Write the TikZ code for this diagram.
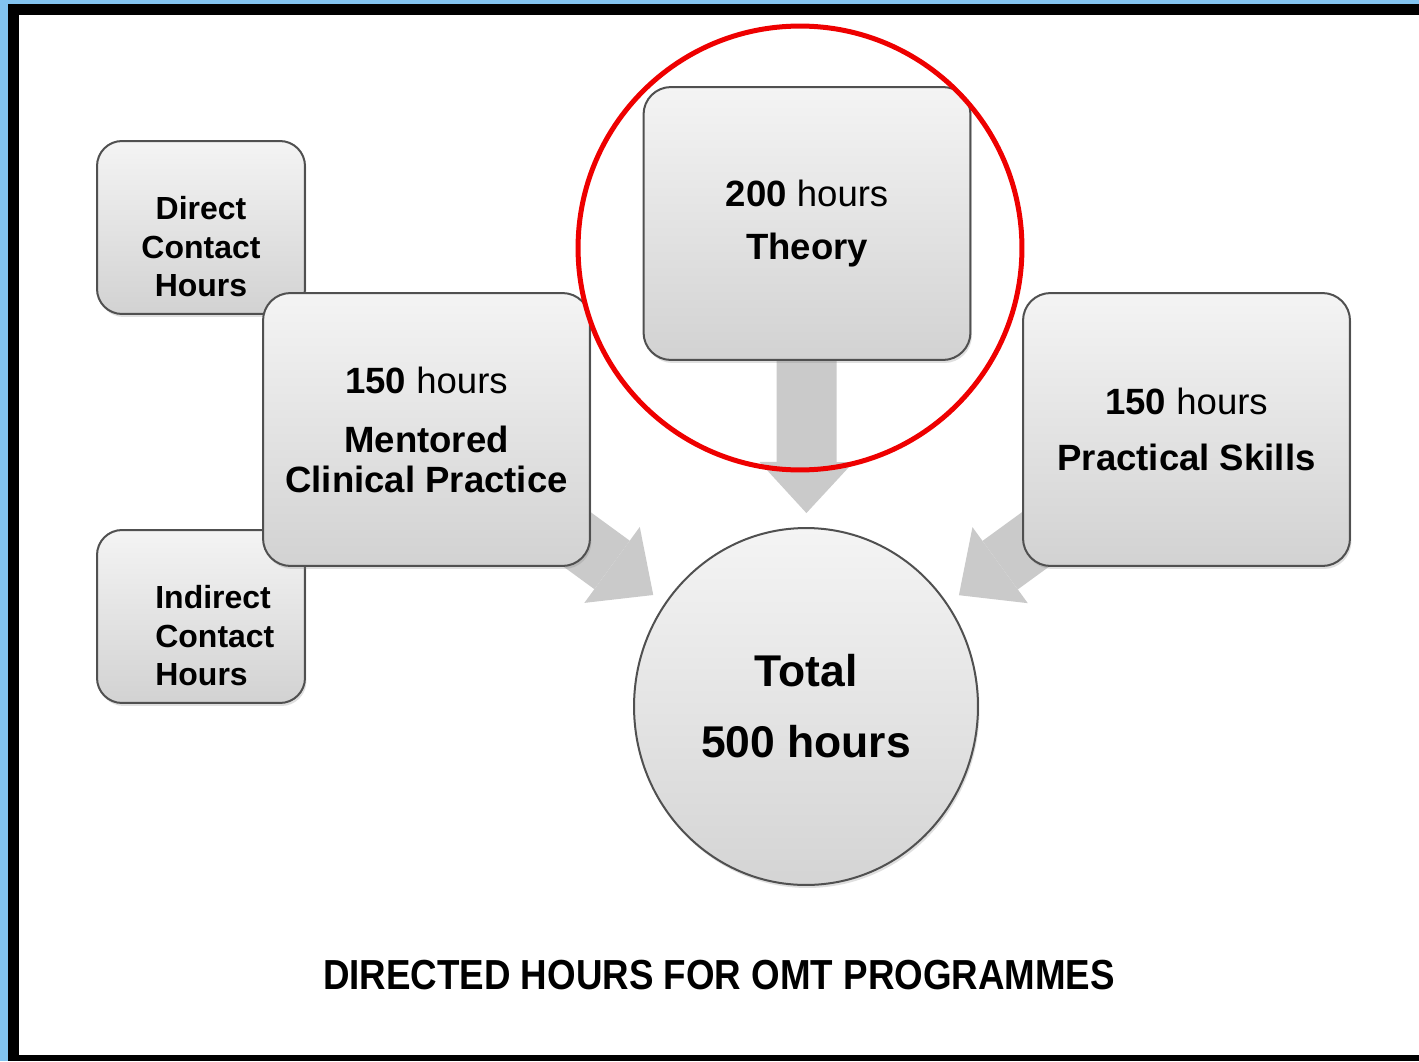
\documentclass[tikz,border=0pt]{standalone}
\usepackage{fontspec}
\setmainfont{Liberation Sans}
\newfontfamily\titlefont[FakeStretch=0.875]{Liberation Sans}
\usepackage{tikz}
\usetikzlibrary{arrows.meta,shapes.geometric,shadows,backgrounds}

\definecolor{frameblue}{RGB}{130,195,239}
\definecolor{boxtop}{RGB}{244,244,244}
\definecolor{boxbot}{RGB}{210,210,210}
\definecolor{boxline}{RGB}{80,80,80}
\definecolor{feedgray}{RGB}{202,202,202}
\definecolor{markred}{RGB}{238,0,0}

\begin{document}
\begin{tikzpicture}[x=0.02cm,y=-0.02cm]
\tikzstyle{box}=[draw=boxline, line width=0.04cm, rounded corners=0.55cm, top color=boxtop, bottom color=boxbot, drop shadow={shadow xshift=0.03cm, shadow yshift=-0.06cm, opacity=0.25}, align=center, inner sep=0pt]
\tikzstyle{smallbox}=[box, rounded corners=0.5cm, minimum width=4.16cm, minimum height=3.46cm]
\tikzstyle{bigbox}=[box, minimum width=6.54cm, minimum height=5.46cm, font=\fontsize{20.8}{22.8}\selectfont]
\tikzstyle{feed}=[draw=feedgray, line width=1.2cm, shorten >=0.28cm, -{Triangle[width=1.88cm,length=1.02cm,line width=0pt]}]
\tikzstyle{smalltext}=[align=center, inner sep=0pt, font=\fontsize{18.2}{21.9}\selectfont\bfseries]
\useasboundingbox (0,0) rectangle (1419,1061);
% frame
\begin{scope}[on background layer]
\fill [frameblue] (0,0) rectangle (1419,1061);
\fill [black] (8,4) rectangle (1419,1061);
\fill [white] (19,15) rectangle (1419,1055);
\end{scope}
% boxes
\node [smallbox] (direct) at (201,227.5) {};
\node [smallbox] (indirect) at (201,616.5) {};
\node [bigbox] (mentored) at (426.5,429.5) {{\bfseries 150} hours\\[10.8pt]\bfseries Mentored\\\bfseries Clinical Practice};
\node [bigbox] (theory) at (807,223.5) {{\bfseries 200} hours\\[7.5pt]\bfseries Theory};
\node [bigbox] (practical) at (1186.5,429.5) {{\bfseries 150} hours\\[9.1pt]\bfseries Practical Skills};
\node [ellipse, draw=boxline, line width=0.04cm, top color=boxtop, bottom color=boxbot!95!white, drop shadow={shadow xshift=0.03cm, shadow yshift=-0.06cm, opacity=0.25}, minimum width=6.88cm, minimum height=7.14cm, align=center, inner sep=0pt, font=\fontsize{25.3}{39.3}\selectfont\bfseries] (total) at (806,706.5) {Total\\[1pt]500 hours};
% texts of the small boxes
\node [smalltext] (directtxt) at (201,247) {Direct\\Contact\\Hours};
\node [smalltext, align=left, anchor=west] (indirecttxt) at (155,636) {Indirect\\Contact\\Hours};
% arrows into the total, under the boxes
\begin{scope}[on background layer]
\draw [feed] (mentored.center) -- (total);
\draw [feed] (theory.center) -- (total);
\draw [feed] (practical.center) -- (total);
\end{scope}
% highlight
\node [circle, draw=markred, line width=0.1cm, minimum size=8.88cm] (mark) at (800,248) {};
% caption
\node [font=\titlefont\fontsize{23.9}{26}\selectfont\bfseries] (caption) at (719,975) {DIRECTED HOURS FOR OMT PROGRAMMES};
\end{tikzpicture}
\end{document}
